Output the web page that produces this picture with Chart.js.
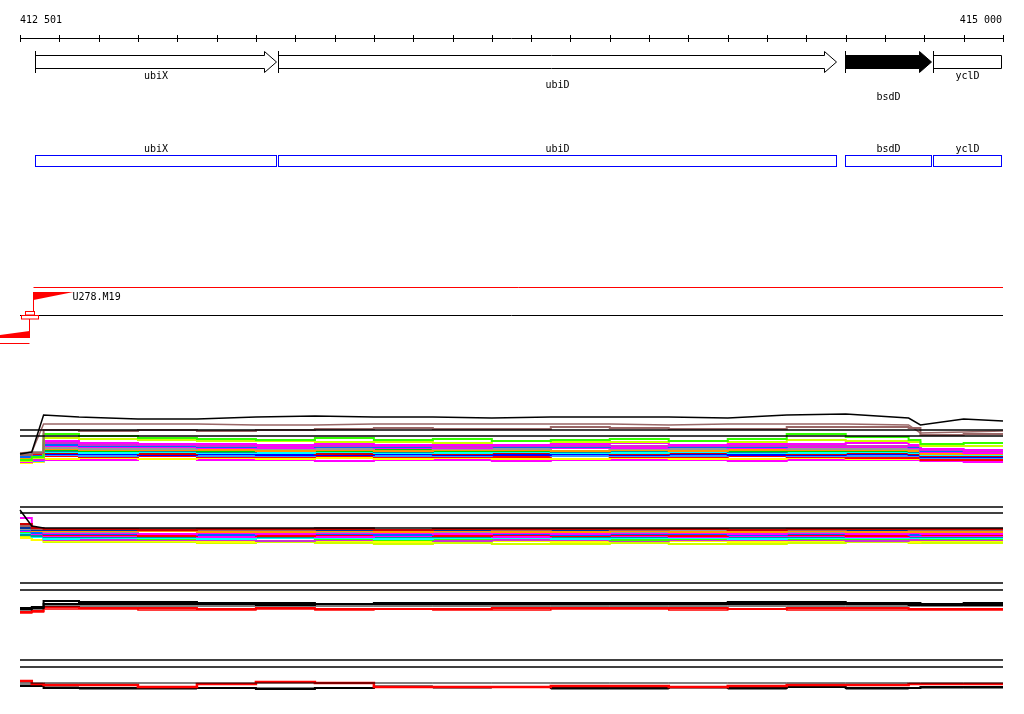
<!DOCTYPE html>
<html>
<head>
<meta charset="utf-8">
<script src="https://cdn.jsdelivr.net/npm/chart.js@4.4.0/dist/chart.umd.min.js"></script>
<style>
html, body { margin: 0; padding: 0; background: #fff; }
#wrap { width: 1024px; height: 714px; }
</style>
</head>
<body>
<div id="wrap"><canvas id="browser"></canvas></div>
<script>
// region and ruler
const regionStart = 412500
const regionEnd = 415000
const rulerLabels = ['412 501', '415 000']
const rulerStep = 100

// genes
const geneNames = ['ubiX', 'ubiD', 'bsdD', 'yclD']
const geneStarts = [412538, 413156, 414598, 414822]
const geneEnds = [413156, 414580, 414822, 415200]
const geneFilled = [false, false, true, false]

// read pair
const readName = 'U278.M19'
const readStart = 412534
const mateStart = 412449
const mateEnd = 412524

// coverage sample positions (bp)
const covPos = [412500, 412530, 412560, 412650, 412800, 412950, 413100, 413250, 413400, 413550, 413700,
                413850, 414000, 414150, 414300, 414450, 414600, 414760, 414790, 414900, 415000]

// track A (upper coverage)
const aRef = [35, 29]
const aTop = [11, 13, 50, 48, 46, 46, 48, 49, 48, 48, 47, 48, 48, 48, 47, 50, 51, 47, 40, 46, 44]
const aBrown1 = [12, 13, 41, 41, 41, 41, 40, 40, 41, 41, 41, 41, 41, 40, 41, 41, 41, 40, 32, 33, 34]
const aBrown2 = [10, 12, 35, 34, 35, 34, 35, 36, 37, 36, 36, 38, 37, 36, 36, 38, 38, 37, 30, 31, 31]
const aGreen = [5, 8, 31, 29, 27, 26, 25, 27, 25, 26, 24, 25, 26, 24, 26, 31, 28, 25, 21, 22, 22]
const aLime = [4, 7, 27, 26, 25, 24, 24, 23, 23, 22, 24, 23, 23, 24, 23, 25, 24, 23, 19, 19, 19]
const aMagenta1 = [10, 12, 24, 22, 21, 21, 20, 21, 20, 20, 20, 21, 22, 20, 21, 21, 22, 20, 16, 15, 15]
const aPurple = [4, 6, 22, 20, 20, 19, 19, 19, 19, 18, 19, 19, 19, 19, 19, 19, 19, 19, 15, 14, 14]
const aBlue = [8, 9, 20, 19, 19, 18, 19, 18, 18, 19, 18, 18, 19, 18, 18, 19, 19, 18, 14, 15, 15]
const aMagenta2 = [3, 5, 19, 18, 18, 17, 17, 18, 17, 17, 18, 17, 17, 18, 17, 18, 18, 17, 13, 12, 12]
const aGray = [12, 13, 17, 16, 16, 17, 16, 16, 17, 16, 16, 17, 16, 16, 17, 16, 16, 16, 13, 13, 13]
const aOrange = [6, 8, 16, 15, 15, 15, 14, 15, 14, 15, 15, 14, 15, 14, 15, 15, 15, 14, 11, 11, 11]
const aGreen2 = [6, 7, 15, 14, 15, 14, 14, 14, 15, 14, 14, 14, 15, 14, 14, 14, 14, 14, 12, 12, 12]
const aTeal = [11, 12, 14, 14, 14, 13, 14, 14, 13, 14, 14, 13, 14, 14, 13, 14, 14, 13, 11, 11, 11]
const aCyan = [5, 7, 13, 12, 13, 12, 12, 13, 12, 12, 13, 12, 12, 13, 12, 12, 13, 12, 10, 10, 10]
const aRed2 = [8, 9, 12, 12, 11, 12, 12, 11, 12, 11, 12, 12, 11, 12, 12, 11, 12, 11, 9, 9, 9]
const aNavy = [7, 8, 11, 11, 10, 11, 10, 10, 11, 10, 10, 11, 10, 11, 10, 10, 11, 10, 8, 8, 8]
const aSky = [3, 4, 10, 9, 10, 9, 9, 10, 9, 9, 10, 9, 9, 9, 10, 9, 9, 9, 7, 7, 7]
const aRed = [9, 10, 9, 8, 9, 8, 8, 9, 8, 8, 8, 9, 8, 8, 9, 8, 7, 7, 5, 5, 5]
const aYellow = [2, 3, 6, 7, 6, 7, 6, 7, 6, 7, 6, 6, 7, 6, 6, 7, 6, 6, 5, 5, 5]
const aMagenta3 = [2, 3, 5, 5, 6, 5, 5, 4, 5, 5, 4, 5, 5, 5, 4, 5, 5, 5, 4, 3, 3]

// track B (lower coverage)
const bRef = [41, 35]
const bTop = [38, 22, 20, 20, 20, 20, 20, 20, 20, 20, 20, 20, 20, 20, 20, 20, 20, 20, 20, 20, 20]
const bRed = [24, 20, 19, 19, 18, 19, 19, 19, 18, 19, 19, 19, 19, 19, 18, 19, 19, 19, 19, 19, 19]
const bBrown = [22, 19, 19, 19, 19, 18, 18, 20, 18, 19, 18, 19, 18, 19, 19, 18, 19, 18, 18, 18, 18]
const bNavy = [20, 18, 18, 18, 18, 18, 18, 18, 18, 18, 18, 18, 19, 19, 18, 18, 18, 18, 18, 18, 18]
const bOrange = [21, 17, 17, 17, 17, 16, 16, 17, 16, 17, 16, 16, 17, 16, 16, 17, 16, 16, 16, 16, 16]
const bGray = [19, 17, 16, 16, 17, 17, 17, 16, 17, 16, 17, 17, 16, 17, 17, 16, 17, 17, 16, 17, 17]
const bMagenta1 = [30, 18, 15, 15, 14, 15, 14, 15, 15, 14, 15, 14, 15, 15, 14, 15, 14, 15, 14, 14, 14]
const bBlue = [18, 15, 14, 14, 14, 13, 14, 14, 13, 14, 14, 13, 14, 14, 13, 14, 14, 13, 14, 14, 14]
const bRed2 = [23, 16, 13, 13, 12, 13, 12, 13, 13, 12, 13, 12, 13, 12, 13, 13, 12, 13, 13, 13, 13]
const bMagenta2 = [17, 14, 12, 12, 12, 11, 12, 11, 12, 12, 11, 12, 12, 11, 12, 12, 11, 12, 12, 12, 12]
const bTeal = [13, 12, 11, 11, 11, 11, 11, 11, 11, 11, 11, 11, 11, 11, 11, 11, 11, 11, 11, 11, 11]
const bCyan = [14, 11, 9, 10, 10, 9, 10, 10, 9, 10, 10, 9, 10, 10, 9, 10, 10, 10, 10, 10, 10]
const bGreen = [16, 12, 10, 10, 9, 9, 10, 9, 8, 9, 10, 9, 8, 9, 10, 9, 9, 10, 9, 9, 9]
const bPurple = [15, 12, 8, 8, 8, 8, 7, 8, 8, 7, 8, 8, 7, 8, 8, 8, 7, 8, 8, 8, 8]
const bYellow = [10, 8, 7, 7, 7, 6, 7, 7, 6, 7, 7, 6, 7, 7, 6, 7, 7, 6, 7, 7, 7]
const bLime = [11, 8, 6, 6, 6, 5, 6, 5, 4, 5, 4, 4, 5, 4, 4, 5, 6, 5, 5, 5, 5]

// track C
const cRef = [32, 25]
const cBlack1 = [7, 8, 14, 13, 13, 12, 12, 11, 12, 12, 12, 12, 12, 12, 13, 13, 12, 12, 11, 12, 12]
const cBlack2 = [6, 7, 11, 11, 11, 11, 10, 11, 11, 11, 11, 11, 11, 11, 11, 11, 11, 10, 10, 10, 10]
const cBlack3 = [5, 6, 9, 9, 9, 9, 9, 9, 9, 9, 9, 9, 9, 9, 9, 9, 9, 9, 9, 9, 9]
const cRed1 = [3, 4, 8, 7, 7, 6, 7, 6, 6, 6, 7, 7, 7, 7, 6, 7, 7, 6, 6, 6, 6]
const cRed2 = [2, 3, 6, 6, 5, 5, 6, 5, 6, 5, 5, 6, 6, 5, 6, 5, 5, 5, 5, 5, 5]

// track D
const dRef = [32, 25]
const dBase = [9, 9, 9, 9, 9, 9, 9, 9, 9, 9, 9, 9, 9, 9, 9, 9, 9, 9, 9, 9, 9]
const dRed = [11, 8, 7, 7, 5, 8, 10, 9, 5, 5, 5, 6, 6, 5, 6, 7, 7, 8, 8, 8, 8]
const dBlack1 = [6, 6, 4, 4, 4, 4, 3, 4, 5, 5, 5, 4, 4, 5, 4, 5, 4, 4, 5, 5, 5]
const dBlack2 = [7, 6, 5, 3, 3, 4, 4, 4, 6, 4, 5, 3, 3, 4, 3, 5, 3, 4, 4, 4, 4]

const H = 714
// pixel baseline of each coverage track
function trackAxis(basePx) {
  return { type: 'linear', display: false, min: basePx - H, max: basePx }
}

function series(vals, color, axis, width, stepped) {
  return {
    data: covPos.map((p, i) => ({ x: p, y: vals[i] })),
    borderColor: color,
    borderWidth: width,
    yAxisID: axis,
    stepped: stepped,
    pointRadius: 0,
    tension: 0,
    fill: false
  }
}

function refLine(v, axis) {
  return {
    data: [{ x: regionStart, y: v }, { x: regionEnd, y: v }],
    borderColor: '#000', borderWidth: 1.5, yAxisID: axis, pointRadius: 0, fill: false
  }
}

let datasets = []
aRef.forEach(v => datasets.push(refLine(v, 'yA')))
bRef.forEach(v => datasets.push(refLine(v, 'yB')))
cRef.forEach(v => datasets.push(refLine(v, 'yC')))
dRef.forEach(v => datasets.push(refLine(v, 'yD')))

datasets.push(series(aTop, '#000', 'yA', 1.5, false))
datasets.push(series(aBrown1, '#996666', 'yA', 1.5, false))
datasets.push(series(aBrown2, '#996666', 'yA', 2, true))
const aColored = [
  [aGreen, '#33ff00'], [aLime, '#ccff00'], [aMagenta1, '#ff00ff'], [aPurple, '#cc33cc'],
  [aBlue, '#0066ff'], [aMagenta2, '#ff00ff'], [aGray, '#999999'], [aOrange, '#ff9900'],
  [aGreen2, '#00cc00'], [aTeal, '#009999'], [aCyan, '#00ffff'], [aRed2, '#cc0000'],
  [aNavy, '#0000ff'], [aSky, '#3399ff'], [aRed, '#ff0000'], [aYellow, '#ffff00'], [aMagenta3, '#ff00ff']
]
aColored.forEach(c => datasets.push(series(c[0], c[1], 'yA', 2, true)))

datasets.push(series(bTop, '#000', 'yB', 1.5, false))
const bColored = [
  [bRed, '#cc0000'], [bBrown, '#996666'], [bNavy, '#003399'], [bOrange, '#ff9900'],
  [bGray, '#999999'], [bMagenta1, '#ff00ff'], [bBlue, '#0066ff'], [bRed2, '#ff0000'],
  [bMagenta2, '#ff00ff'], [bTeal, '#009999'], [bCyan, '#00ffff'], [bGreen, '#33ff00'],
  [bPurple, '#cc33cc'], [bYellow, '#ffff00'], [bLime, '#ccff00']
]
bColored.forEach(c => datasets.push(series(c[0], c[1], 'yB', 2, true)))

datasets.push(series(cBlack1, '#000', 'yC', 2, true))
datasets.push(series(cBlack2, '#000', 'yC', 2, true))
datasets.push(series(cBlack3, '#000', 'yC', 1, true))
datasets.push(series(cRed1, '#ff0000', 'yC', 2, true))
datasets.push(series(cRed2, '#ff0000', 'yC', 1.5, true))

datasets.push(series(dBase, '#000', 'yD', 1, true))
datasets.push(series(dRed, '#ff0000', 'yD', 2.5, true))
datasets.push(series(dBlack1, '#000', 'yD', 2, true))
datasets.push(series(dBlack2, '#000', 'yD', 1, true))

// genes, ruler and read glyphs
const browserDecor = {
  id: 'browserDecor',
  afterDatasetsDraw(chart) {
    const ctx = chart.ctx
    const xs = chart.scales.x
    const px = v => xs.getPixelForValue(v)
    ctx.save()
    ctx.font = '10px "DejaVu Sans Mono", monospace'
    ctx.textBaseline = 'middle'
    ctx.fillStyle = '#000'
    ctx.strokeStyle = '#000'
    ctx.lineWidth = 1

    // ruler
    ctx.beginPath()
    ctx.moveTo(px(regionStart), 38.5)
    ctx.lineTo(px(regionEnd), 38.5)
    for (let p = regionStart; p <= regionEnd; p += rulerStep) {
      const x = Math.round(px(p)) + 0.5
      ctx.moveTo(x, 35)
      ctx.lineTo(x, 42)
    }
    ctx.stroke()
    ctx.textAlign = 'left'
    ctx.fillText(rulerLabels[0], px(regionStart), 20)
    ctx.textAlign = 'right'
    ctx.fillText(rulerLabels[1], px(regionEnd) - 1, 20)

    // gene arrows
    const labelY = [76, 85, 97, 76]
    ctx.textAlign = 'center'
    for (let i = 0; i < geneNames.length; i++) {
      const x0 = Math.round(px(geneStarts[i])) + 0.5
      const clipped = geneEnds[i] > regionEnd
      const x1 = Math.round(px(Math.min(geneEnds[i], regionEnd))) - 1.5
      ctx.beginPath()
      if (clipped) {
        ctx.rect(x0, 55.5, x1 - x0, 13)
      } else {
        const hx = x1 - 12
        ctx.moveTo(x0, 55.5)
        ctx.lineTo(hx, 55.5)
        ctx.lineTo(hx, 51.5)
        ctx.lineTo(x1, 62)
        ctx.lineTo(hx, 72.5)
        ctx.lineTo(hx, 68.5)
        ctx.lineTo(x0, 68.5)
        ctx.closePath()
      }
      if (geneFilled[i]) { ctx.fillStyle = '#000'; ctx.fill() }
      else { ctx.fillStyle = '#fff'; ctx.fill() }
      ctx.stroke()
      ctx.beginPath()
      ctx.moveTo(x0, 51)
      ctx.lineTo(x0, 73)
      ctx.stroke()
      ctx.fillStyle = '#000'
      ctx.fillText(geneNames[i], (x0 + x1) / 2, labelY[i])
    }

    // CDS boxes
    ctx.strokeStyle = '#0000ff'
    for (let i = 0; i < geneNames.length; i++) {
      const x0 = Math.round(px(geneStarts[i])) + 0.5
      const x1 = Math.round(px(Math.min(geneEnds[i], regionEnd))) - 1.5
      ctx.strokeRect(x0, 155.5, x1 - x0, 11)
      ctx.fillText(geneNames[i], (x0 + x1) / 2, 149)
    }

    // read track
    const r0 = Math.round(px(readStart)) + 0.5
    const m1 = Math.round(px(mateEnd)) + 0.5
    const m0 = px(mateStart)
    ctx.strokeStyle = '#000'
    ctx.beginPath()
    ctx.moveTo(px(regionStart), 315.5)
    ctx.lineTo(px(regionEnd), 315.5)
    ctx.stroke()
    ctx.strokeStyle = '#ff0000'
    ctx.fillStyle = '#ff0000'
    ctx.beginPath()
    ctx.moveTo(r0, 287.5)
    ctx.lineTo(px(regionEnd), 287.5)
    ctx.moveTo(r0, 292)
    ctx.lineTo(r0, 312)
    ctx.moveTo(m1, 319)
    ctx.lineTo(m1, 338)
    ctx.moveTo(m0, 343.5)
    ctx.lineTo(m1, 343.5)
    ctx.stroke()
    ctx.beginPath()
    ctx.moveTo(r0, 292)
    ctx.lineTo(r0 + 40, 292)
    ctx.lineTo(r0, 300)
    ctx.closePath()
    ctx.fill()
    ctx.beginPath()
    ctx.moveTo(m0, 335)
    ctx.lineTo(m1, 331)
    ctx.lineTo(m1, 338)
    ctx.lineTo(m0, 338)
    ctx.closePath()
    ctx.fill()
    ctx.strokeRect(r0 - 8, 311.5, 9, 3.5)
    ctx.strokeRect(m1 - 8, 315.5, 17, 3.5)
    ctx.fillStyle = '#000'
    ctx.textAlign = 'left'
    ctx.fillText(readName, r0 + 39, 297)
    ctx.restore()
  }
}

const W = 1024
const pxLeft = 20, pxRight = 1003
const xRange = (regionEnd - regionStart) * W / (pxRight - pxLeft)
const xMin = regionStart - pxLeft / W * xRange

const browser = new Chart('browser', {
  type: 'line',
  data: { datasets: datasets },
  options: {
    responsive: true,
    maintainAspectRatio: false,
    animation: false,
    layout: { padding: 0 },
    plugins: { legend: { display: false }, tooltip: { enabled: false } },
    scales: {
      x: { type: 'linear', display: false, min: xMin, max: xMin + xRange },
      yA: trackAxis(465),
      yB: trackAxis(548),
      yC: trackAxis(615),
      yD: trackAxis(692)
    }
  },
  plugins: [browserDecor]
})
</script>
</body>
</html>
